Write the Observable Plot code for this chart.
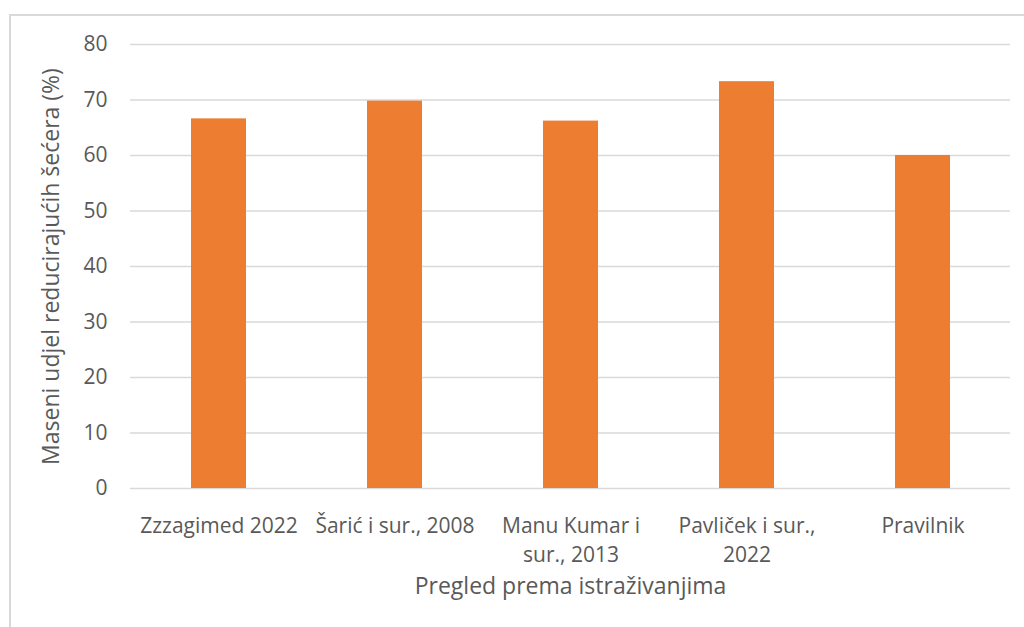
<!DOCTYPE html>
<html>
<head>
<meta charset="utf-8">
<script src="https://cdn.jsdelivr.net/npm/d3@7"></script>
<script src="https://cdn.jsdelivr.net/npm/@observablehq/plot@0.6"></script>
<style>
  html, body { margin: 0; padding: 0; background: #ffffff; }
  #wrap { position: relative; width: 1024px; height: 627px; overflow: hidden; background: #fff; }
  #frame { position: absolute; left: 9px; top: 14px; width: 1030px; height: 640px;
           border-left: 2px solid #d9d9d9; border-top: 2px solid #d9d9d9; box-sizing: border-box; }
  #chart { position: absolute; left: 0; top: 0; }
  #chart svg { font-family: "Open Sans", sans-serif; }
  #chart svg g[aria-label="y-axis label"] text,
  #chart svg g[aria-label="x-axis label"] text { font-size: 23px !important; fill: #595959; }
</style>
</head>
<body>
<div id="wrap"><div id="frame"></div><div id="chart"></div></div>
<script>
const categories = ["Zzzagimed 2022", "Šarić i sur., 2008", "Manu Kumar i sur., 2013", "Pavliček i sur., 2022", "Pravilnik"];
const tickLabels = ["Zzzagimed 2022", "Šarić i sur., 2008", "Manu Kumar i\nsur., 2013", "Pavliček i sur.,\n2022", "Pravilnik"];
const values = [66.6, 69.8, 66.2, 73.3, 60.0];
const yTicks = [0, 10, 20, 30, 40, 50, 60, 70, 80];
const yTitle = "Maseni udjel reducirajućih šećera (%)";
const xTitle = "Pregled prema istraživanjima";

const data = categories.map((c, i) => ({category: c, value: values[i]}));
const labelOf = new Map(categories.map((c, i) => [c, tickLabels[i]]));

const chart = Plot.plot({
  width: 1024,
  height: 627,
  marginLeft: 130,
  marginRight: 14,
  marginTop: 44,
  marginBottom: 139,
  style: {fontFamily: "'Open Sans', sans-serif", fontSize: "20px", color: "#595959", background: "transparent", overflow: "visible"},
  x: {domain: categories, paddingInner: 0.6875, paddingOuter: 0.34375, align: 0.5},
  y: {domain: [0, 80], ticks: yTicks},
  marks: [
    Plot.gridY(yTicks, {stroke: "#d9d9d9", strokeOpacity: 1, strokeWidth: 1.3}),
    Plot.barY(data, {x: "category", y: "value", fill: "#ED7D31"}),
    Plot.axisY(yTicks, {tickSize: 0, tickPadding: 23, fontSize: 21, fill: "#595959",
      label: yTitle, labelAnchor: "center", labelArrow: "none", labelOffset: 88}),
    Plot.axisX({tickSize: 0, tickPadding: 24, fontSize: 21, fill: "#595959", lineHeight: 1.38,
      tickFormat: d => labelOf.get(d),
      label: xTitle, labelAnchor: "center", labelArrow: "none", labelOffset: 105})
  ]
});
document.getElementById("chart").appendChild(chart);
</script>
</body>
</html>
